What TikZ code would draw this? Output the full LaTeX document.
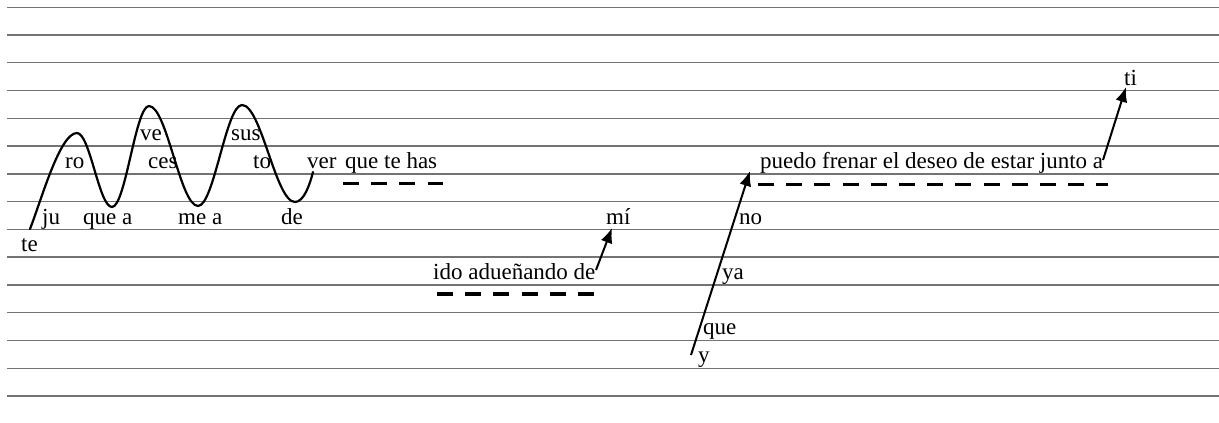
\documentclass[tikz,border=0pt]{standalone}
\usepackage{fontspec}
\setmainfont{Liberation Serif}
\usetikzlibrary{arrows.meta}
\begin{document}
\begin{tikzpicture}[x=1pt,y=-1pt,
  staff/.style={black!55, line width=1.3pt},
  lyr/.style={anchor=base west, inner sep=0pt, font=\fontsize{23}{24}\selectfont},
  wave/.style={line width=2.2pt, line join=round, line cap=round},
  arr/.style={line width=2pt, -{Latex[length=15pt,width=12pt]}},
  dashline/.style={line width=3.5pt, dash pattern=on 16pt off 12.2pt}]
\useasboundingbox (0,0) rectangle (1219,423);
\foreach \i in {0,...,14} \draw[staff] (7,{7.3+27.76*\i}) -- (1219,{7.3+27.76*\i});
% wave
\draw[wave] (30,229) .. controls (42,198) and (60,133) .. (77,133)
  .. controls (90,133) and (99,207) .. (112,207)
  .. controls (125.5,207) and (135.5,106) .. (149,106)
  .. controls (166.8,106) and (180.2,206) .. (198,206)
  .. controls (214,206) and (226,105) .. (242,105)
  .. controls (261.3,105) and (275.7,202) .. (295,202)
  .. controls (304,202) and (310,184) .. (313,172);
% lyrics on the wave
\node[lyr] (te) at (21,251) {te};
\node[lyr] (ju) at (42,224) {ju};
\node[lyr] (ro) at (65,168) {ro};
\node[lyr] (quea) at (83,224) {que a};
\node[lyr] (ve) at (140,140) {ve};
\node[lyr] (ces) at (148,168) {ces};
\node[lyr] (mea) at (178,224) {me a};
\node[lyr] (sus) at (231,140) {sus};
\node[lyr] (to) at (253,168) {to};
\node[lyr] (de) at (281,224) {de};
\node[lyr] (ver) at (307,168) {ver};
\node[lyr] (qth) at (345,168) {que te has};
\node[lyr] (ido) at (433,279) {ido adueñando de};
\node[lyr] (mi) at (606,224) {mí};
\node[lyr] (y) at (698,362) {y};
\node[lyr] (que) at (703,334.7) {que};
\node[lyr] (ya) at (722,279) {ya};
\node[lyr] (no) at (739,224) {no};
\node[lyr] (puedo) at (760,168) {puedo frenar el deseo de estar junto a};
\node[lyr] (ti) at (1124,85) {ti};
% dashes
\draw[dashline] (343,183.5) -- (443,183.5);
\draw[dashline] (437,294) -- (597,294);
\draw[dashline] (758,184.5) -- (1108,184.5);
% arrows
\coordinate (a1s) at (596,270);
\coordinate (a1e) at (612,228);
\coordinate (a2s) at (691,355);
\coordinate (a2e) at (750,171);
\coordinate (a3s) at (1103,160);
\coordinate (a3e) at (1126,87);
\draw[arr] (a1s) -- (a1e);
\draw[arr] (a2s) -- (a2e);
\draw[arr] (a3s) -- (a3e);
\end{tikzpicture}
\end{document}
